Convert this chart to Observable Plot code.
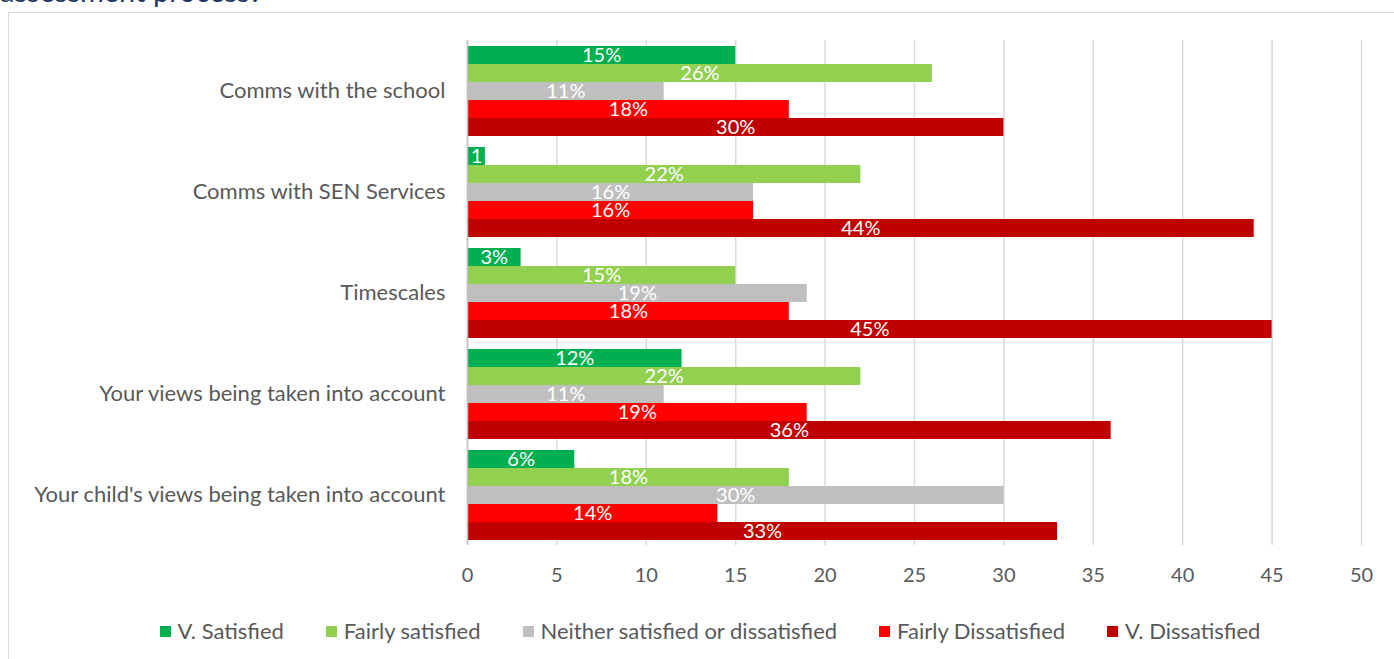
<!DOCTYPE html>
<html><head><meta charset="utf-8">
<script src="https://cdn.jsdelivr.net/npm/d3@7"></script>
<script src="https://cdn.jsdelivr.net/npm/@observablehq/plot@0.6"></script>
<style>
body{margin:0;background:#fff;font-family:Lato,"Open Sans",sans-serif;overflow:hidden}
#wrap{position:relative;width:1394px;height:659px;overflow:hidden}
#title{position:absolute;left:0;top:-24px;font-size:29px;color:#1f3864;line-height:1;white-space:nowrap}
#frame{position:absolute;left:8px;top:12px;width:1420px;height:700px;border:1.5px solid #d9d9d9;box-sizing:border-box}
#chart{position:absolute;left:0;top:0}
#legend{position:absolute;top:618px;left:0;width:1420px;display:flex;justify-content:center;gap:42px;font-size:22px;color:#595959;line-height:26px}
.item{display:flex;align-items:center;white-space:nowrap}
.sw{width:11px;height:11px;margin-right:7px}
g[aria-label="x-axis tick label"]{font-size:20px}
g[aria-label="fy-axis tick label"]{font-size:22px}
</style></head>
<body>
<div id="wrap">
  <div id="title">assessment process?</div>
  <div id="frame"></div>
  <div id="chart"></div>
  <div id="legend"></div>
</div>
<script>
const categories = ["Comms with the school","Comms with SEN Services","Timescales","Your views being taken into account","Your child's views being taken into account"];
const series = ["V. Satisfied","Fairly satisfied","Neither satisfied or dissatisfied","Fairly Dissatisfied","V. Dissatisfied"];
const colors = ["#00b050","#92d050","#bfbfbf","#ff0000","#c00000"];
const vSatisfied = [15,1,3,12,6];
const fairlySatisfied = [26,22,15,22,18];
const neither = [11,16,19,11,30];
const fairlyDissatisfied = [18,16,18,19,14];
const vDissatisfied = [30,44,45,36,33];
const vSatisfiedLabels = ["15%","1","3%","12%","6%"];
const fairlySatisfiedLabels = ["26%","22%","15%","22%","18%"];
const neitherLabels = ["11%","16%","19%","11%","30%"];
const fairlyDissatisfiedLabels = ["18%","16%","18%","19%","14%"];
const vDissatisfiedLabels = ["30%","44%","45%","36%","33%"];
const xTicks = [0,5,10,15,20,25,30,35,40,45,50];

const valueSets = [vSatisfied,fairlySatisfied,neither,fairlyDissatisfied,vDissatisfied];
const labelSets = [vSatisfiedLabels,fairlySatisfiedLabels,neitherLabels,fairlyDissatisfiedLabels,vDissatisfiedLabels];
const rows = [];
categories.forEach((c,i)=>series.forEach((s,j)=>rows.push({category:c,series:s,value:valueSets[j][i],label:labelSets[j][i]})));

const chart = Plot.plot({
  width:1394, height:600,
  marginLeft:467, marginRight:33, marginTop:40, marginBottom:55,
  style:{fontFamily:"Lato, 'Open Sans', sans-serif", fontSize:"21px", color:"#595959", background:"transparent", overflow:"visible"},
  x:{domain:[0,50], ticks:xTicks, tickSize:0, tickPadding:22, label:null},
  y:{domain:series, axis:null, paddingInner:0, paddingOuter:0.215},
  fy:{domain:categories, axis:"left", padding:0, tickSize:0, tickPadding:22, label:null},
  color:{domain:series, range:colors},
  marks:[
    Plot.ruleX(xTicks,{stroke:"#d9d9d9", strokeWidth:1.5}),
    Plot.barX(rows,{fy:"category", y:"series", x:"value", fill:"series"}),
    Plot.ruleX([0],{stroke:"#bfbfbf", strokeWidth:1.5}),
    Plot.text(rows,{fy:"category", y:"series", x:d=>d.value/2, text:"label", fill:"white", fontSize:20})
  ]
});
document.getElementById("chart").appendChild(chart);

const legend = document.getElementById("legend");
series.forEach((s,i)=>{
  const it=document.createElement("div");it.className="item";
  const sw=document.createElement("div");sw.className="sw";sw.style.background=colors[i];
  const t=document.createElement("span");t.textContent=s;
  it.appendChild(sw);it.appendChild(t);legend.appendChild(it);
});
</script>
</body></html>
